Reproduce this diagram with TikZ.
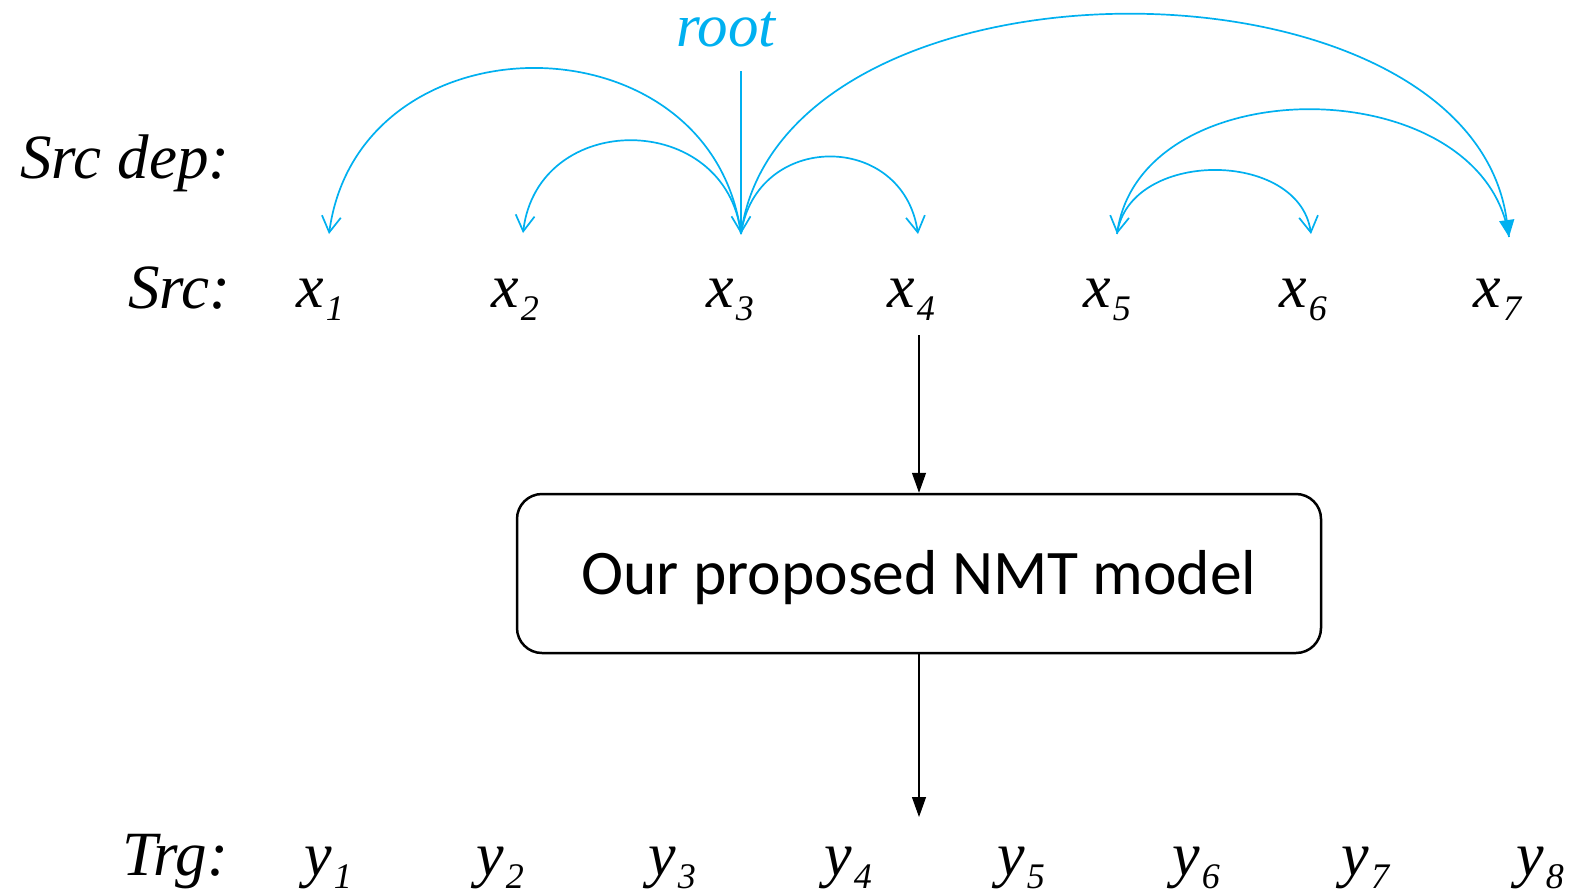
\documentclass[tikz,border=0pt]{standalone}
\usepackage{fontspec}
\setmainfont{Liberation Serif}
\newfontfamily\boxfont{Carlito}
\usetikzlibrary{arrows.meta}
\definecolor{depblue}{HTML}{00B0F0}

% token with an italic subscript set below the baseline
\newcommand\tok[2]{\textit{#1}\kern2pt\raisebox{-13pt}{\fontsize{36}{36}\selectfont\textit{#2}}}

\tikzset{
  lab/.style={font=\fontsize{63}{63}\selectfont\itshape, inner sep=0pt, anchor=base west},
  word/.style={font=\fontsize{62}{62}\selectfont, inner sep=0pt, anchor=base},
  dep/.style={draw=depblue, line width=1.7pt, -{Straight Barb[length=16pt,width=19pt,line width=1.7pt]}},
  depfill/.style={draw=depblue, line width=1.7pt, -{Triangle[length=17pt,width=15pt]}, depblue},
  flow/.style={draw=black, line width=1.3pt, -{Triangle[length=20pt,width=14pt]}},
  modelbox/.style={draw=black, line width=2.5pt, rounded corners=25pt, fill=white}
}

\begin{document}
\begin{tikzpicture}[x=1pt,y=-1pt]
  \fill[white] (0,0) rectangle (1578,895);
  \useasboundingbox (0,0) rectangle (1578,895);

  % row labels
  \node[lab] (lsrcdep) at (20,178) {Src dep:};
  \node[lab] (lsrc) at (128,308) {Src:};
  \node[lab] (ltrg) at (122,875) {Trg:};
  \node[word, text=depblue, font=\fontsize{61}{61}\selectfont\itshape] (root) at (726,46) {root};

  % source tokens
  \node[word] (x1) at (320,307) {\tok{x}{1}};
  \node[word] (x2) at (515,307) {\tok{x}{2}};
  \node[word] (x3) at (730,307) {\tok{x}{3}};
  \node[word] (x4) at (911,307) {\tok{x}{4}};
  \node[word] (x5) at (1107,307) {\tok{x}{5}};
  \node[word] (x6) at (1303,307) {\tok{x}{6}};
  \node[word] (x7) at (1498,307) {\tok{x}{7}};

  % target tokens
  \node[word] (y1) at (328,875) {\tok{y}{1}};
  \node[word] (y2) at (500,875) {\tok{y}{2}};
  \node[word] (y3) at (672,875) {\tok{y}{3}};
  \node[word] (y4) at (848,875) {\tok{y}{4}};
  \node[word] (y5) at (1021,875) {\tok{y}{5}};
  \node[word] (y6) at (1196,875) {\tok{y}{6}};
  \node[word] (y7) at (1366,875) {\tok{y}{7}};
  \node[word] (y8) at (1540,875) {\tok{y}{8}};

  % attachment points of the dependency arcs
  \coordinate (rt) at (741,71);
  \coordinate (f1) at (329,234);
  \coordinate (f2) at (523,233);
  \coordinate (f3) at (741,234);
  \coordinate (f4) at (918,234);
  \coordinate (f5) at (1117,234);
  \coordinate (f6) at (1311,234);
  \coordinate (f7) at (1509,237);

  % dependency arcs
  \draw[dep] (rt) -- (f3);
  \draw[dep] (f3) .. controls +(-30,-221) and +(30,-221) .. (f1);
  \draw[dep] (f3) .. controls +(-15,-124) and +(15,-124) .. (f2);
  \draw[dep] (f3) .. controls +(15,-103) and +(-15,-103) .. (f4);
  \draw[depfill] (f3) .. controls +(40,-293) and +(-40,-293) .. (f7);
  \draw[dep] (f7) .. controls +(-25,-168) and +(25,-168) .. (f5);
  \draw[dep] (f5) .. controls +(12,-85) and +(-12,-85) .. (f6);

  % model box and data flow
  \node[modelbox, minimum width=804pt, minimum height=159pt, inner sep=0pt,
        text height=41pt, text depth=0pt,
        font=\boxfont\fontsize{63.5}{63.5}\selectfont] (model) at (919,573.5) {Our proposed NMT model};
  \coordinate (src) at (919,335);
  \coordinate (trg) at (919,817);
  \draw[flow] (src) -- (model.north);
  \draw[flow] (model.south) -- (trg);
\end{tikzpicture}
\end{document}
